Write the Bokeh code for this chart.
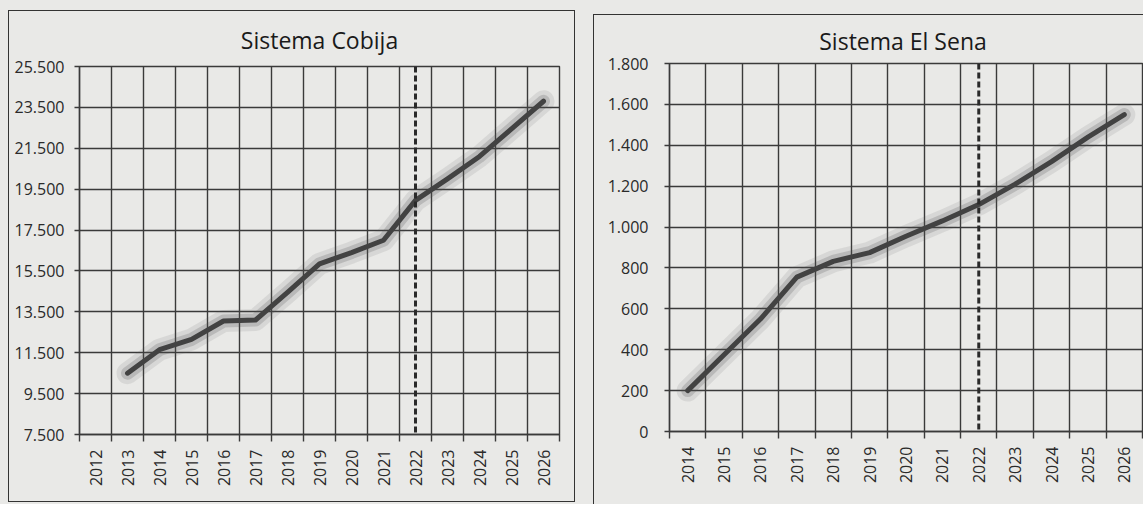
import math
from bokeh.plotting import figure
from bokeh.models import FixedTicker, Span, Range1d
from bokeh.layouts import row, column
from bokeh.embed import file_html
from bokeh.resources import INLINE

# ---------------- data ----------------
cobija_title = "Sistema Cobija"
cobija_axis_years = ["2012", "2013", "2014", "2015", "2016", "2017", "2018",
                     "2019", "2020", "2021", "2022", "2023", "2024", "2025", "2026"]
cobija_years = ["2013", "2014", "2015", "2016", "2017", "2018", "2019",
                "2020", "2021", "2022", "2023", "2024", "2025", "2026"]
cobija_values = [10500, 11650, 12150, 13050, 13100, 14450, 15850,
                 16400, 17000, 18950, 20000, 21100, 22450, 23800]
cobija_yticks = [7500, 9500, 11500, 13500, 15500, 17500, 19500, 21500, 23500, 25500]
cobija_ytick_labels = ["7.500", "9.500", "11.500", "13.500", "15.500",
                       "17.500", "19.500", "21.500", "23.500", "25.500"]

sena_title = "Sistema  El Sena"
sena_axis_years = ["2014", "2015", "2016", "2017", "2018", "2019", "2020",
                   "2021", "2022", "2023", "2024", "2025", "2026"]
sena_years = ["2014", "2015", "2016", "2017", "2018", "2019", "2020",
              "2021", "2022", "2023", "2024", "2025", "2026"]
sena_values = [200, 375, 550, 755, 832, 875, 955, 1030, 1110, 1210, 1320, 1440, 1550]
sena_yticks = [0, 200, 400, 600, 800, 1000, 1200, 1400, 1600, 1800]
sena_ytick_labels = ["0", "200", "400", "600", "800", "1.000", "1.200",
                     "1.400", "1.600", "1.800"]

marker_year = "2022"

# ---------------- styling ----------------
PAPER = "#e9e9e7"
INK = "#2a2a2a"
GRID = "#3a3a3a"
LINE = "#424242"
FONT = "Open Sans"


def make_chart(title, axis_years, years, values, yticks, ytick_labels,
               width, height, borders, title_offset, title_standoff, margin,
               ystandoff):
    n = len(axis_years)
    p = figure(width=width, height=height, output_backend="svg",
               toolbar_location=None, x_range=Range1d(0, n),
               y_range=Range1d(yticks[0], yticks[-1]),
               min_border_left=borders[0], min_border_right=borders[1],
               min_border_top=borders[2], min_border_bottom=borders[3],
               background_fill_color=PAPER, border_fill_color=PAPER,
               margin=margin)
    p.outline_line_color = GRID
    p.outline_line_width = 1.4

    centers = [i + 0.5 for i in range(n)]
    xt = FixedTicker(ticks=centers, minor_ticks=list(range(n + 1)))
    p.xaxis.ticker = xt
    p.xaxis.major_label_overrides = {c: y for c, y in zip(centers, axis_years)}
    p.xaxis.major_label_orientation = math.pi / 2
    p.xaxis.major_tick_line_color = None
    p.xaxis.minor_tick_line_color = GRID
    p.xaxis.minor_tick_line_width = 1.4
    p.xaxis.minor_tick_out = 7
    p.xaxis.minor_tick_in = 0
    p.xaxis.major_label_standoff = 8
    p.xgrid.grid_line_color = None
    p.xgrid.minor_grid_line_color = GRID
    p.xgrid.minor_grid_line_width = 1.4

    p.yaxis.ticker = FixedTicker(ticks=yticks)
    p.yaxis.major_label_overrides = {t: l for t, l in zip(yticks, ytick_labels)}
    p.yaxis.major_tick_out = 5
    p.yaxis.major_tick_in = 0
    p.yaxis.major_tick_line_color = GRID
    p.yaxis.major_tick_line_width = 1.4
    p.yaxis.minor_tick_line_color = None
    p.yaxis.major_label_standoff = ystandoff
    p.ygrid.grid_line_color = GRID
    p.ygrid.grid_line_width = 1.4

    for ax in (p.xaxis, p.yaxis):
        ax.axis_line_color = GRID
        ax.axis_line_width = 1.4
        ax.major_label_text_font = FONT
        ax.major_label_text_font_size = "16px"
        ax.major_label_text_color = INK

    p.title.text = title
    p.title.align = "center"
    p.title.offset = title_offset
    p.title.text_font = FONT
    p.title.text_font_size = "23px"
    p.title.text_font_style = "normal"
    p.title.text_color = "#1a1a1a"
    p.title.standoff = title_standoff

    xs = [axis_years.index(y) + 0.5 for y in years]
    # soft smudge around the line (as in the scanned print)
    p.line(xs, values, line_color="#5a5a5a", line_width=22, line_alpha=0.12,
           line_join="round", line_cap="round")
    p.line(xs, values, line_color="#505050", line_width=13, line_alpha=0.22,
           line_join="round", line_cap="round")
    p.line(xs, values, line_color=LINE, line_width=5, line_join="round",
           line_cap="round")

    mx = axis_years.index(marker_year) + 0.5
    p.add_layout(Span(location=mx, dimension="height", line_color=INK,
                      line_width=3, line_dash="6 3"))
    return p


p1 = make_chart(cobija_title, cobija_axis_years, cobija_years, cobija_values,
                cobija_yticks, cobija_ytick_labels, width=567, height=492,
                borders=(70, 17, 55, 69), title_offset=-24, title_standoff=21,
                margin=(10, 0, 0, 8), ystandoff=10)
p1.styles = {"border": "1.5px solid #333"}

p2 = make_chart(sena_title, sena_axis_years, sena_years, sena_values,
                sena_yticks, sena_ytick_labels, width=550, height=490,
                borders=(75, 2, 48, 74), title_offset=-18, title_standoff=14,
                margin=(14, 0, 0, 18), ystandoff=16)
p2.styles = {"border-left": "1.5px solid #333", "border-top": "1.5px solid #333"}

layout = row(column(p1), column(p2), styles={"background-color": PAPER})

open("out.html", "w").write(file_html(layout, INLINE))
